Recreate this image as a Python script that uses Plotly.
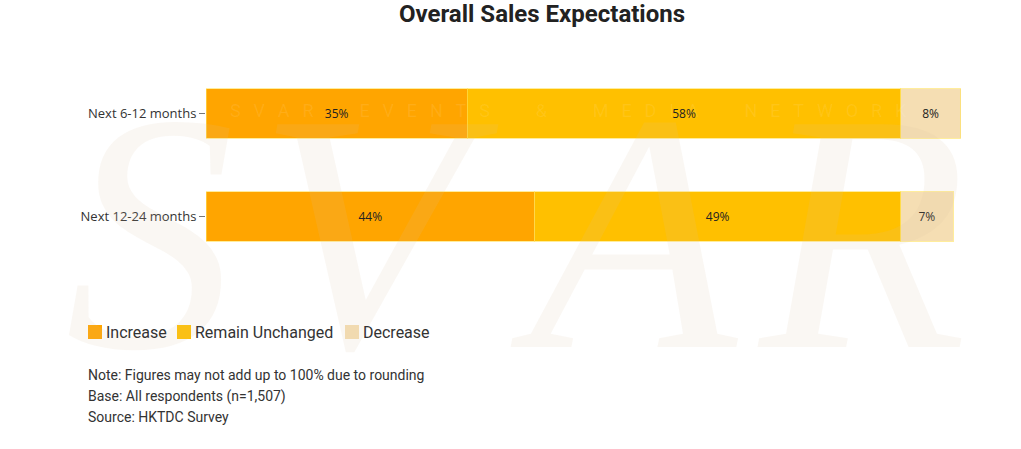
import plotly.graph_objects as go

categories = ["Next 6-12 months", "Next 12-24 months"]
series_names = ["Increase", "Remain Unchanged", "Decrease"]
increase = [35, 44]
remain = [58, 49]
decrease = [8, 7]
colors = ["#FFA500", "#FFC000", "#F5DEB3"]
notes = [
    "Note: Figures may not add up to 100% due to rounding",
    "Base: All respondents (n=1,507)",
    "Source: HKTDC Survey",
]

W, H = 1021, 449
ML, MR, MT, MB = 206, 59, 62, 181
PW, PH = W - ML - MR, H - MT - MB


def px(xp):
    return (xp - ML) / PW


def py(yp):
    return (H - MB - yp) / PH


fig = go.Figure()
for name, vals, col in zip(series_names, [increase, remain, decrease], colors):
    fig.add_trace(go.Bar(
        y=categories, x=vals, name=name, orientation="h",
        marker=dict(color=col, line=dict(color="rgba(255,225,90,0.6)", width=1)),
        text=[f"{v}%" for v in vals], textposition="inside",
        insidetextanchor="middle",
        textfont=dict(family="Open Sans", size=12, color="#222"),
        hoverinfo="skip", showlegend=False,
    ))

annotations = []
shapes = []
# watermark letters
for letter, cx in zip("SVAR", [150, 380, 625, 860]):
    annotations.append(dict(
        text=f"<i>{letter}</i>", xref="paper", yref="paper", x=px(cx), y=py(232),
        xanchor="center", yanchor="middle", showarrow=False,
        font=dict(family="Liberation Serif", size=340, color="rgba(215,190,160,0.13)"),
    ))
sp = "\u2002\u2009"
wg = "\u2003\u2003\u2002"
band = wg.join(sp.join(w) for w in ["SVAR", "EVENTS", "&", "MEDIA", "NETWORK"])
annotations.append(dict(
    text=band, xref="paper", yref="paper",
    x=px(228), y=py(110), xanchor="left", yanchor="middle", showarrow=False,
    font=dict(family="Roboto", size=18, color="rgba(255,255,255,0.09)"),
))
# notes
for i, line in enumerate(notes):
    annotations.append(dict(
        text=line, xref="paper", yref="paper",
        x=px(86), y=py(375 + i * 21), xanchor="left", yanchor="middle",
        showarrow=False, font=dict(family="Roboto", size=14, color="#333"),
    ))
# legend (squares + labels)
sq_left = [88, 177, 345]
for name, col, x0 in zip(series_names, colors, sq_left):
    shapes.append(dict(type="rect", xref="paper", yref="paper",
                       x0=px(x0), x1=px(x0 + 14), y0=py(339), y1=py(325),
                       fillcolor=col, line=dict(width=0)))
    annotations.append(dict(
        text=name, xref="paper", yref="paper", x=px(x0 + 16), y=py(332),
        xanchor="left", yanchor="middle", showarrow=False,
        font=dict(family="Roboto", size=16, color="#333"),
    ))

fig.update_layout(
    width=W, height=H,
    barmode="stack", bargap=0.515,
    paper_bgcolor="white", plot_bgcolor="rgba(0,0,0,0)",
    margin=dict(l=ML, r=MR, t=MT, b=MB),
    title=dict(text="<b>Overall Sales Expectations</b>", x=542 / W, xref="container",
               y=1 - 14 / H, yref="container", xanchor="center", yanchor="middle",
               font=dict(family="Roboto", size=24, color="#222")),
    xaxis=dict(range=[0, 101.2], visible=False),
    yaxis=dict(categoryorder="array", categoryarray=categories, autorange="reversed",
               showgrid=False, zeroline=False, showline=False,
               ticks="outside", ticklen=6, tickcolor="#777",
               tickfont=dict(family="Open Sans", size=13, color="#333")),
    annotations=annotations,
    shapes=shapes,
    showlegend=False,
)
fig.write_html("out.html")
